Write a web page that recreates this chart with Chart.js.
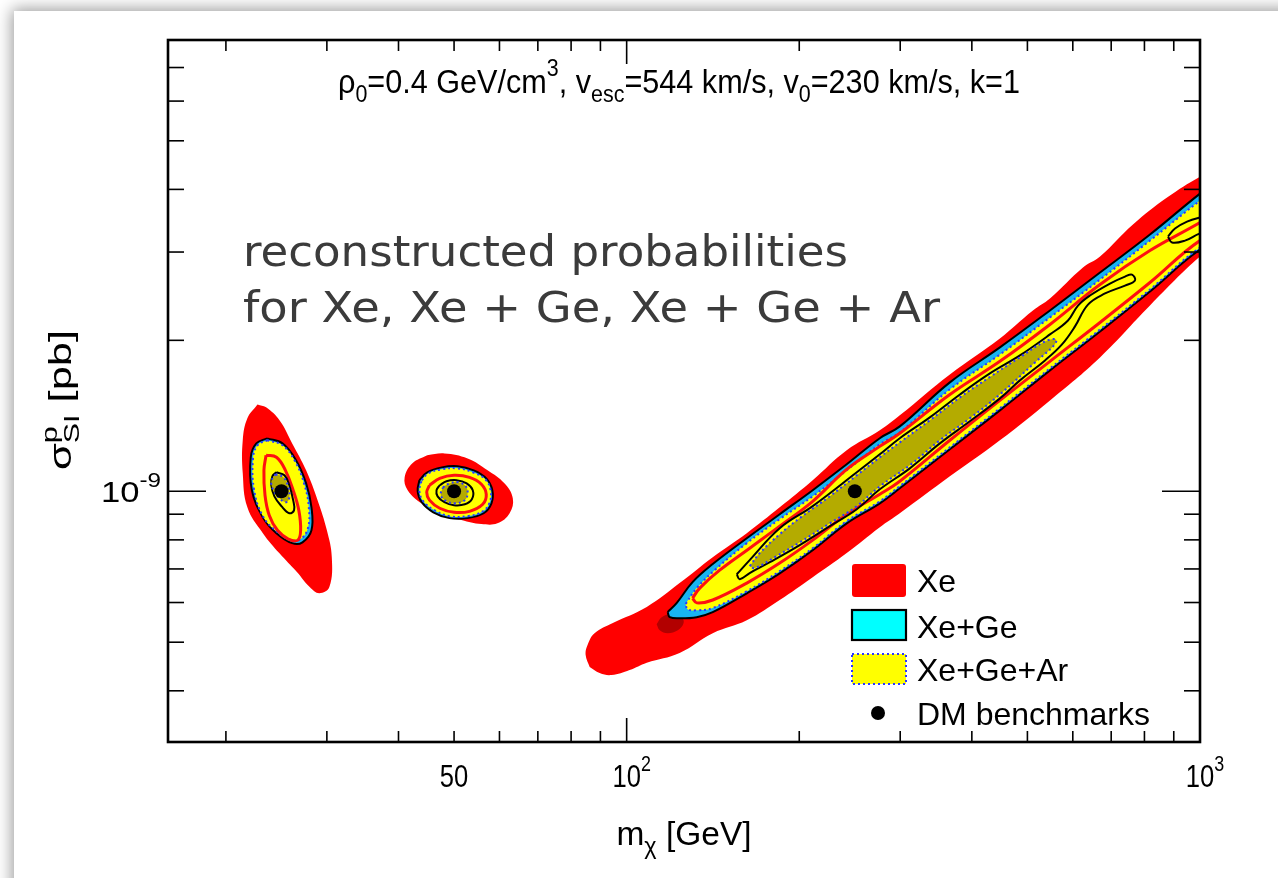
<!DOCTYPE html>
<html>
<head>
<meta charset="utf-8">
<title>Reconstructed WIMP probabilities</title>
<script src="https://cdn.jsdelivr.net/npm/chart.js@4.4.1/dist/chart.umd.min.js"></script>
<style>
    html, body { margin: 0; padding: 0; background: #fff; }
    body { width: 1278px; height: 878px; overflow: hidden; position: relative; }
    .card { position: absolute; left: 14px; top: 11px; width: 1320px; height: 920px; background: #fff; box-shadow: 0 0 15px 2px rgba(0, 0, 0, 0.4); }
    #wrap { position: absolute; left: 0; top: 0; width: 1278px; height: 878px; }
</style>
</head>
<body>
<div class="card"></div>
<div id="wrap"><canvas id="chart" width="1278" height="878"></canvas></div>
<script>
// contour values: mass in GeV, cross section in units of 1e-9 pb
const SIGMA_UNIT = 1e-9;

// axis ranges and ticks
const massRange = [15.85, 1000];
const sigmaRange = [0.3162, 7.943];
const massTicks = [20, 30, 40, 50, 60, 70, 80, 90, 100, 200, 300, 400, 500, 600, 700, 800, 900, 1000];
const massMajor = [100, 1000];
const massLabelValues = [50, 100, 1000];
const massLabels = ["50", "10^2", "10^3"];
const sigmaTicks = [0.4, 0.5, 0.6, 0.7, 0.8, 0.9, 1, 2, 3, 4, 5, 6, 7];
const sigmaMajor = [1];
const sigmaLabelValues = [1];
const sigmaLabels = ["10^-9"];

// benchmark points
const benchMass = [25, 50, 250];
const benchSigma = [1, 1, 1];

// --- 25 GeV benchmark ---
const lowXeOuterMass = [22.7, 23.5, 24.8, 26.1, 27.6, 28.9, 30.0, 30.6, 30.3, 29.1, 28.0, 26.6, 24.8, 23.2, 21.8, 21.4, 21.4, 21.8];
const lowXeOuterSig = [1.490, 1.470, 1.385, 1.246, 1.101, 0.960, 0.836, 0.739, 0.644, 0.626, 0.644, 0.690, 0.752, 0.825, 0.929, 1.086, 1.264, 1.398];
const lowXeGeOuterMass = [23.6, 25.1, 26.5, 27.6, 28.2, 28.2, 27.2, 26.1, 24.5, 23.2, 22.2, 22.1, 22.6];
const lowXeGeOuterSig = [1.275, 1.246, 1.153, 1.037, 0.929, 0.836, 0.791, 0.788, 0.825, 0.888, 1.005, 1.169, 1.246];
const lowXeGeArOuterMass = [23.6, 25.1, 26.4, 27.4, 27.9, 27.8, 27.0, 26.0, 24.5, 23.2, 22.4, 22.3, 22.7];
const lowXeGeArOuterSig = [1.264, 1.235, 1.148, 1.033, 0.929, 0.844, 0.803, 0.799, 0.832, 0.892, 1.005, 1.163, 1.235];
const lowXeInnerMass = [23.5, 24.5, 25.4, 26.2, 26.8, 27.0, 26.7, 25.7, 24.6, 23.8, 23.4, 23.3];
const lowXeInnerSig = [1.180, 1.169, 1.101, 1.005, 0.917, 0.836, 0.799, 0.803, 0.836, 0.896, 0.982, 1.101];
const lowXeGeInnerMass = [24.5, 25.3, 25.8, 26.2, 26.3, 25.8, 25.0, 24.3, 24.0, 24.1];
const lowXeGeInnerSig = [1.091, 1.076, 1.028, 0.960, 0.917, 0.904, 0.934, 0.977, 1.028, 1.071];
const lowXeGeArInnerMass = [24.4, 25.2, 25.7, 25.8, 25.5, 24.8, 24.2, 24.0];
const lowXeGeArInnerSig = [1.081, 1.066, 1.018, 0.973, 0.951, 0.968, 1.005, 1.047];

// --- 50 GeV benchmark ---
const midXeOuterMass = [44.9, 48.1, 52.8, 57.2, 61.2, 63.3, 62.5, 59.5, 55.8, 51.5, 47.6, 43.9, 41.5, 41.0, 42.3];
const midXeOuterSig = [1.180, 1.190, 1.163, 1.101, 1.037, 0.968, 0.904, 0.863, 0.860, 0.876, 0.904, 0.946, 1.005, 1.066, 1.137];
const midXeGeOuterMass = [43.5, 44.9, 47.6, 50.7, 54.1, 56.9, 58.3, 58.1, 56.3, 52.8, 49.1, 46.0, 43.9, 43.2];
const midXeGeOuterSig = [1.052, 1.091, 1.116, 1.122, 1.101, 1.061, 1.005, 0.946, 0.904, 0.884, 0.884, 0.908, 0.951, 1.000];
const midXeGeArOuterMass = [43.9, 45.1, 47.6, 50.7, 53.9, 56.7, 57.9, 57.7, 56.1, 52.8, 49.1, 46.2, 44.2, 43.5];
const midXeGeArOuterSig = [1.052, 1.086, 1.106, 1.111, 1.091, 1.056, 1.005, 0.951, 0.912, 0.892, 0.892, 0.917, 0.955, 1.000];
const midXeInnerMass = [45.3, 47.2, 50.0, 53.2, 55.8, 56.9, 56.1, 53.2, 50.0, 47.2, 45.3, 44.8];
const midXeInnerSig = [1.028, 1.061, 1.076, 1.066, 1.033, 0.986, 0.942, 0.912, 0.908, 0.925, 0.960, 0.995];
const midXeGeInnerMass = [47.2, 48.5, 50.5, 52.6, 53.9, 53.7, 52.2, 50.0, 48.1, 46.8, 46.6];
const midXeGeInnerSig = [1.028, 1.047, 1.052, 1.037, 1.005, 0.964, 0.942, 0.938, 0.951, 0.977, 1.005];
const midXeGeArInnerMass = [47.8, 49.1, 50.9, 52.4, 52.8, 52.2, 50.2, 48.5, 47.4];
const midXeGeArInnerSig = [1.018, 1.037, 1.042, 1.023, 0.991, 0.960, 0.946, 0.955, 0.982];

// --- 250 GeV benchmark (degenerate band) ---
const highXeOuterMass = [86.2, 89.7, 94.1, 101.2, 108.4, 123.7, 141.3, 162.0, 184.9, 211.1, 242.0, 276.4, 299.5, 366.2, 447.7, 547.4, 669.3, 818.0, 1000, 1062,
    1062, 1000, 876, 764, 669.3, 625.0, 547.4, 511.2, 447.7, 366.2, 299.5, 276.4, 242.0, 211.1, 184.9, 162.0, 141.3, 123.7, 108.4, 94.6, 87.9, 85.5, 84.8];
const highXeOuterSig = [0.446, 0.434, 0.430, 0.440, 0.455, 0.476, 0.521, 0.553, 0.607, 0.674, 0.753, 0.848, 0.904, 1.071, 1.264, 1.518, 1.849, 2.347, 2.938, 3.049,
    4.358, 4.240, 3.852, 3.403, 2.938, 2.794, 2.424, 2.294, 2.018, 1.710, 1.417, 1.323, 1.207, 1.052, 0.929, 0.825, 0.739, 0.656, 0.588, 0.546, 0.521, 0.494, 0.472];
const highXeDarkMass = [112.8, 115.1, 119.9, 124.7, 125.7, 122.8, 117.9, 114.2];
const highXeDarkSig = [0.543, 0.561, 0.5685, 0.561, 0.546, 0.528, 0.521, 0.528];
const highXeGeOuterMass = [117.9, 122.3, 130.3, 141.3, 162.0, 184.9, 211.1, 242.0, 276.4, 299.5, 366.2, 447.7, 547.4, 669.3, 818.0, 1000, 1062,
    1062, 1000, 818.0, 669.3, 547.4, 447.7, 366.2, 299.5, 276.4, 242.0, 211.1, 184.9, 162.0, 141.3, 132.5, 123.7, 118.9];
const highXeGeOuterSig = [0.574, 0.599, 0.659, 0.716, 0.806, 0.900, 1.005, 1.132, 1.276, 1.347, 1.649, 1.936, 2.294, 2.730, 3.251, 3.923, 4.107,
    3.076, 3.034, 2.503, 2.083, 1.742, 1.450, 1.213, 1.014, 0.946, 0.863, 0.763, 0.686, 0.626, 0.574, 0.561, 0.558, 0.561];
const highXeGeArOuterMass = [126.7, 132.5, 142.4, 162.0, 184.9, 211.1, 242.0, 276.4, 299.5, 366.2, 447.7, 547.4, 669.3, 818.0, 1000, 1062,
    1062, 1000, 818.0, 669.3, 547.4, 447.7, 366.2, 299.5, 276.4, 242.0, 211.1, 184.9, 162.0, 141.3, 132.5, 127.7];
const highXeGeArOuterSig = [0.596, 0.641, 0.696, 0.788, 0.880, 0.977, 1.101, 1.241, 1.311, 1.597, 1.874, 2.222, 2.644, 3.162, 3.799, 3.977,
    3.104, 3.062, 2.526, 2.102, 1.758, 1.464, 1.224, 1.024, 0.955, 0.872, 0.770, 0.693, 0.632, 0.585, 0.579, 0.582];
const highXeInnerMass = [130.3, 134.1, 145.3, 163.9, 184.9, 211.1, 242.0, 276.4, 299.5, 366.2, 447.7, 547.4, 669.3, 818.0, 1000, 1062,
    1062, 1000, 818.0, 669.3, 547.4, 447.7, 366.2, 299.5, 276.4, 242.0, 211.1, 184.9, 162.0, 141.3, 132.5];
const highXeInnerSig = [0.612, 0.641, 0.696, 0.770, 0.852, 0.955, 1.106, 1.229, 1.305, 1.560, 1.816, 2.151, 2.584, 3.020, 3.434, 3.595,
    3.191, 3.162, 2.608, 2.171, 1.816, 1.518, 1.264, 1.047, 0.986, 0.900, 0.799, 0.719, 0.656, 0.607, 0.599];
const highXeGeInnerMass = [155.6, 163.9, 184.9, 211.1, 252.0, 276.4, 299.5, 337.9, 381.3, 430.1, 485.2, 547.4, 588.5, 612.6, 642.8, 696.6, 739.9, 760.9, 770.2,
    739.9, 682.9, 637.7, 605.3, 574.5, 536.6, 485.2, 447.7, 396.8, 351.8, 311.8, 276.4, 252.0, 226.1, 200.4, 177.7, 163.9, 157.5];
const highXeGeInnerSig = [0.683, 0.729, 0.844, 0.934, 1.091, 1.185, 1.276, 1.404, 1.560, 1.718, 1.866, 2.055, 2.191, 2.346, 2.457, 2.596, 2.680, 2.705, 2.632,
    2.572, 2.480, 2.357, 2.132, 1.963, 1.824, 1.664, 1.532, 1.379, 1.246, 1.111, 1.009, 0.921, 0.852, 0.781, 0.722, 0.687, 0.668];
const highXeGeSpotMass = [879.4, 904.5, 949.2, 1000, 1062, 1062, 1000, 941.6, 893.6];
const highXeGeSpotSig = [3.221, 3.342, 3.450, 3.514, 3.561, 3.311, 3.266, 3.162, 3.133];
const highXeGeArInnerMass = [163.9, 170.7, 184.9, 200.4, 226.1, 252.0, 276.4, 299.5, 337.9, 381.3, 430.1, 485.2, 536.6, 560.7,
    556.3, 515.4, 447.7, 396.8, 351.8, 311.8, 276.4, 252.0, 226.1, 200.4, 181.3, 167.2];
const highXeGeArInnerSig = [0.709, 0.753, 0.821, 0.884, 0.977, 1.076, 1.169, 1.252, 1.385, 1.539, 1.690, 1.850, 1.990, 2.008,
    1.954, 1.807, 1.560, 1.398, 1.264, 1.127, 1.023, 0.934, 0.863, 0.791, 0.739, 0.703];

const BLUE_DOTS = "#2b37ff";

const STYLES = {
    xeOuter: { fill: "shape", backgroundColor: "#ff0000", borderWidth: 0, borderColor: "rgba(0,0,0,0)" },
    xeDark: { fill: "shape", backgroundColor: "#b20000", borderWidth: 0, borderColor: "rgba(0,0,0,0)" },
    xeGeOuter: { fill: "shape", backgroundColor: "#18b4f2", borderColor: "#000", borderWidth: 2 },
    xeGeArOuter: { fill: "shape", backgroundColor: "#ffff00", borderColor: BLUE_DOTS, borderWidth: 2, borderDash: [2, 3] },
    xeInner: { fill: false, borderColor: "#ff1010", borderWidth: 3 },
    xeGeInner: { fill: false, borderColor: "#000", borderWidth: 2 },
    xeGeArInner: { fill: "shape", backgroundColor: "#b4ab00", borderColor: BLUE_DOTS, borderWidth: 2, borderDash: [2, 3] },
};

// bottom to top
const layers = [
    [lowXeOuterMass, lowXeOuterSig, "xeOuter"],
    [midXeOuterMass, midXeOuterSig, "xeOuter"],
    [highXeOuterMass, highXeOuterSig, "xeOuter"],
    [highXeDarkMass, highXeDarkSig, "xeDark"],
    [lowXeGeOuterMass, lowXeGeOuterSig, "xeGeOuter"],
    [midXeGeOuterMass, midXeGeOuterSig, "xeGeOuter"],
    [highXeGeOuterMass, highXeGeOuterSig, "xeGeOuter"],
    [lowXeGeArOuterMass, lowXeGeArOuterSig, "xeGeArOuter"],
    [midXeGeArOuterMass, midXeGeArOuterSig, "xeGeArOuter"],
    [highXeGeArOuterMass, highXeGeArOuterSig, "xeGeArOuter"],
    [lowXeInnerMass, lowXeInnerSig, "xeInner"],
    [midXeInnerMass, midXeInnerSig, "xeInner"],
    [highXeInnerMass, highXeInnerSig, "xeInner"],
    [lowXeGeInnerMass, lowXeGeInnerSig, "xeGeInner"],
    [midXeGeInnerMass, midXeGeInnerSig, "xeGeInner"],
    [highXeGeInnerMass, highXeGeInnerSig, "xeGeInner"],
    [highXeGeSpotMass, highXeGeSpotSig, "xeGeInner"],
    [lowXeGeArInnerMass, lowXeGeArInnerSig, "xeGeArInner"],
    [midXeGeArInnerMass, midXeGeArInnerSig, "xeGeArInner"],
    [highXeGeArInnerMass, highXeGeArInnerSig, "xeGeArInner"],
];

function ring(mass, sig) {
    const pts = mass.map((m, i) => ({ x: m, y: sig[i] * SIGMA_UNIT }));
    pts.push(pts[0]);
    return pts;
}

const datasets = layers.map(([mass, sig, kind]) => ({
    data: ring(mass, sig),
    tension: 0.4,
    pointRadius: 0,
    borderJoinStyle: "round",
    ...STYLES[kind],
}));

datasets.push({
    data: benchMass.map((m, i) => ({ x: m, y: benchSigma[i] * SIGMA_UNIT })),
    showLine: false,
    pointRadius: 7,
    pointBackgroundColor: "#000",
    pointBorderWidth: 0,
});

// first dataset is painted last, so put the bottom layer at the highest order
datasets.forEach((d, i) => (d.order = datasets.length - i));

const SANS = '"Liberation Sans", Arial, Helvetica, sans-serif';

// text with super/subscripts; parts = [text, "sup"|"sub", keepPosition]
function drawRich(ctx, parts, x, y, size, o = {}) {
    const family = o.family || SANS;
    const fontFor = (k) => `${k ? size * 0.7 : size}px ${family}`;
    const adv = parts.map(([t, k, hold]) => {
        ctx.font = fontFor(k);
        return hold ? 0 : ctx.measureText(t).width;
    });
    const natural = adv.reduce((s, w) => s + w, 0);
    const sx = o.width ? o.width / natural : o.squeeze || 1;
    const w = natural * sx;
    const left = o.align === "center" ? x - w / 2 : o.align === "right" ? x - w : x;
    ctx.save();
    ctx.translate(left, y);
    ctx.scale(sx, 1);
    ctx.fillStyle = o.color || "#000";
    ctx.textAlign = "left";
    ctx.textBaseline = "alphabetic";
    let cx = 0;
    parts.forEach(([t, k], i) => {
        ctx.font = fontFor(k);
        const dy = k === "sup" ? -size * (o.rise || 0.5) : k === "sub" ? size * (o.drop || 0.25) : 0;
        ctx.fillText(t, cx, dy);
        cx += adv[i];
    });
    ctx.restore();
}

function powerParts(label) {
    const [base, exp] = label.split("^");
    return exp ? [[base], [exp, "sup"]] : [[base]];
}

const framePlugin = {
    id: "framePlugin",
    afterDatasetsDraw(chart) {
        const { ctx, chartArea: a, scales } = chart;
        const xs = scales.x;
        const ys = scales.y;
        ctx.save();
        ctx.strokeStyle = "#000";
        ctx.lineCap = "butt";
        ctx.lineWidth = 1.6;

        const seg = (x1, y1, x2, y2) => {
            ctx.beginPath();
            ctx.moveTo(x1, y1);
            ctx.lineTo(x2, y2);
            ctx.stroke();
        };

        // inward ticks on all four sides
        massTicks.forEach((v) => {
            const px = xs.getPixelForValue(v);
            const len = massMajor.includes(v) ? 24 : 11;
            seg(px, a.bottom, px, a.bottom - len);
            seg(px, a.top, px, a.top + len);
        });
        sigmaTicks.forEach((v) => {
            const py = ys.getPixelForValue(v * SIGMA_UNIT);
            const len = sigmaMajor.includes(v) ? 38 : 16;
            seg(a.left, py, a.left + len, py);
            seg(a.right, py, a.right - len, py);
        });

        ctx.lineWidth = 2.6;
        ctx.strokeRect(a.left, a.top, a.right - a.left, a.bottom - a.top);

        // tick labels, condensed
        const tickSize = 32;
        const squeeze = 0.8;
        massLabels.forEach((lab, i) => {
            const px = xs.getPixelForValue(massLabelValues[i]);
            const parts = powerParts(lab);
            ctx.font = `${tickSize}px ${SANS}`;
            const bw = ctx.measureText(parts[0][0]).width * squeeze;
            drawRich(ctx, parts, px - bw / 2, 787, tickSize, { squeeze });
        });
        sigmaLabels.forEach((lab, i) => {
            const py = ys.getPixelForValue(sigmaLabelValues[i] * SIGMA_UNIT);
            drawRich(ctx, powerParts(lab), 161, py + 11, 30, { align: "right", width: 60 });
        });

        // axis titles
        drawRich(ctx, [["m"], ["χ", "sub"], [" [GeV]"]], 684, 845, 34, { align: "center", width: 135 });
        ctx.save();
        ctx.translate(71, 400);
        ctx.rotate(-Math.PI / 2);
        drawRich(ctx, [["σ"], ["p", "sup", true], ["SI", "sub"], [" [pb]"]], 0, 0, 32, { align: "center", width: 140, rise: 0.45 });
        ctx.restore();

        // halo parameters
        drawRich(ctx, [["ρ"], ["0", "sub"], ["=0.4 GeV/cm"], ["3", "sup"], [", v"], ["esc", "sub"], ["=544 km/s, v"], ["0", "sub"], ["=230 km/s, k=1"]],
            338, 93, 34, { width: 682 });

        // annotation
        const note = { family: '"DejaVu Sans", "Open Sans", sans-serif', color: "#3b3b3b" };
        drawRich(ctx, [["reconstructed probabilities"]], 243, 266, 42, { ...note, width: 605 });
        drawRich(ctx, [["for Xe, Xe + Ge, Xe + Ge + Ar"]], 243, 322, 42, { ...note, width: 697 });

        // legend
        ctx.fillStyle = "#ff0000";
        ctx.beginPath();
        ctx.roundRect(852, 564, 54, 33, 3);
        ctx.fill();

        ctx.fillStyle = "#00ffff";
        ctx.fillRect(852, 610, 54, 30);
        ctx.lineWidth = 2.2;
        ctx.strokeStyle = "#000";
        ctx.strokeRect(852, 610, 54, 30);

        ctx.fillStyle = "#ffff00";
        ctx.fillRect(852, 654, 54, 30);
        ctx.setLineDash([2, 3]);
        ctx.strokeStyle = BLUE_DOTS;
        ctx.lineWidth = 2;
        ctx.strokeRect(852, 654, 54, 30);
        ctx.setLineDash([]);

        ctx.fillStyle = "#000";
        ctx.beginPath();
        ctx.arc(878, 713, 7, 0, Math.PI * 2);
        ctx.fill();

        ctx.font = `32px ${SANS}`;
        ctx.textAlign = "left";
        ctx.textBaseline = "alphabetic";
        ctx.fillText("Xe", 917, 592);
        ctx.fillText("Xe+Ge", 917, 638);
        ctx.fillText("Xe+Ge+Ar", 917, 681);
        ctx.fillText("DM benchmarks", 917, 725);

        ctx.restore();
    },
};

new Chart(document.getElementById("chart"), {
    type: "line",
    data: { datasets },
    options: {
        responsive: false,
        animation: false,
        events: [],
        layout: { padding: { left: 168, right: 78, top: 40, bottom: 136 } },
        elements: { line: { capBezierPoints: false } },
        scales: {
            x: { type: "logarithmic", min: massRange[0], max: massRange[1], display: false },
            y: { type: "logarithmic", min: sigmaRange[0] * SIGMA_UNIT, max: sigmaRange[1] * SIGMA_UNIT, display: false },
        },
        plugins: {
            legend: { display: false },
            tooltip: { enabled: false },
            filler: { propagate: false },
        },
    },
    plugins: [framePlugin],
});
</script>
</body>
</html>
